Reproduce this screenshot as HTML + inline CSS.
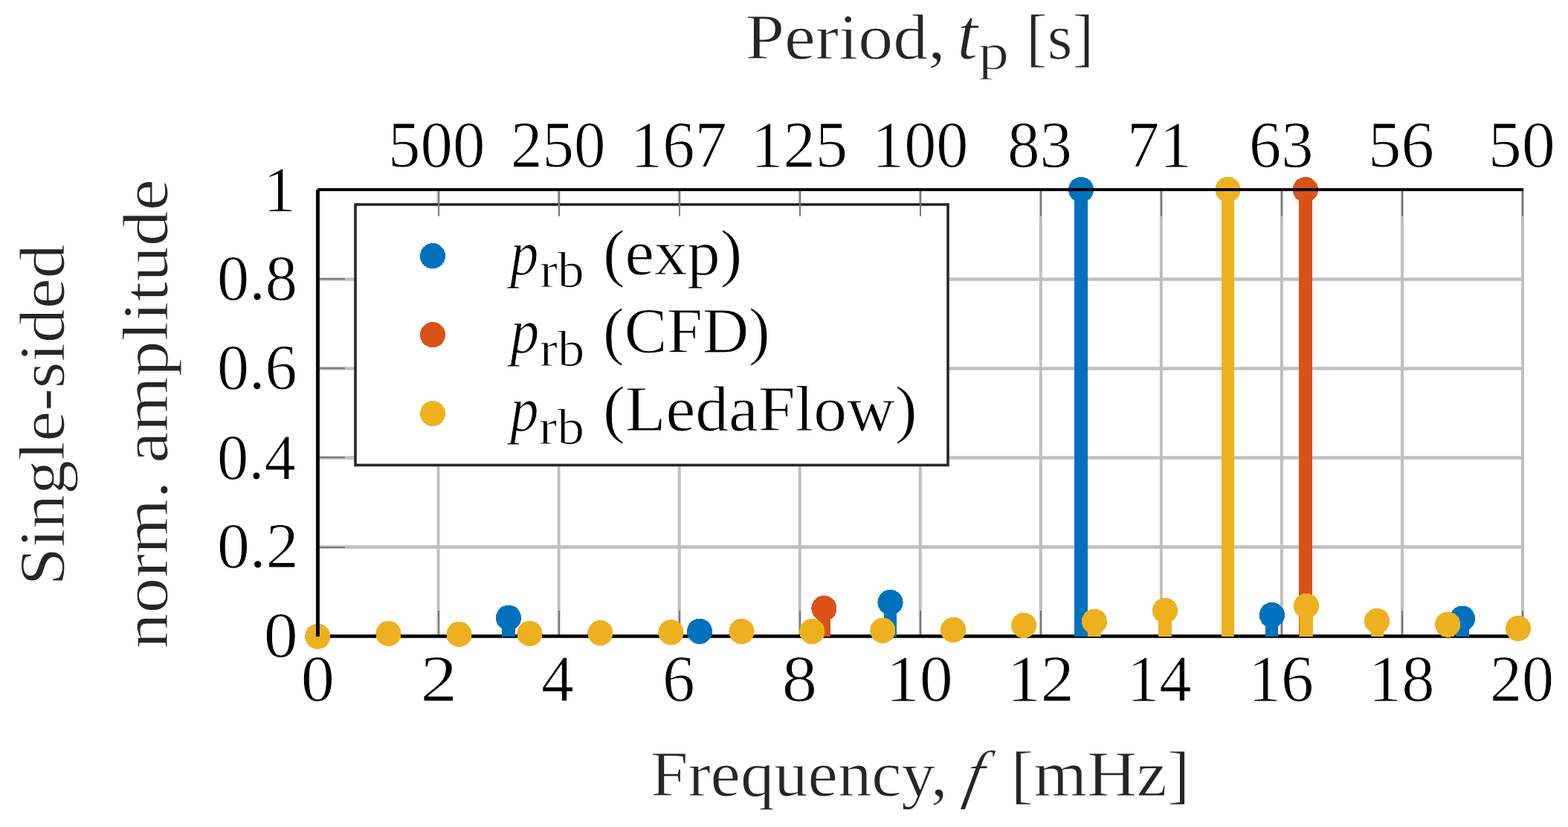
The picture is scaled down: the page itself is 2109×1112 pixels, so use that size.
<!DOCTYPE html>
<html><head><meta charset="utf-8"><title>Single-sided amplitude spectrum</title>
<style>html,body{margin:0;padding:0;background:#fff;overflow:hidden;width:2109px;height:1112px;}svg{display:block;}text{font-family:"Liberation Serif","DejaVu Serif",serif;stroke:#fff;stroke-width:1px;stroke-linejoin:round;}</style>
</head><body>
<svg width="2109" height="1112" viewBox="0 0 2109 1112">
<rect width="2109" height="1112" fill="#fff"/>
<g id="grid">
<line x1="589.55" y1="257" x2="589.55" y2="855.5" stroke="#bfbfbf" stroke-width="4"/>
<line x1="751.60" y1="257" x2="751.60" y2="855.5" stroke="#bfbfbf" stroke-width="4"/>
<line x1="913.65" y1="257" x2="913.65" y2="855.5" stroke="#bfbfbf" stroke-width="4"/>
<line x1="1075.70" y1="257" x2="1075.70" y2="855.5" stroke="#bfbfbf" stroke-width="4"/>
<line x1="1237.75" y1="257" x2="1237.75" y2="855.5" stroke="#bfbfbf" stroke-width="4"/>
<line x1="1399.80" y1="257" x2="1399.80" y2="855.5" stroke="#bfbfbf" stroke-width="4"/>
<line x1="1561.85" y1="257" x2="1561.85" y2="855.5" stroke="#bfbfbf" stroke-width="4"/>
<line x1="1723.90" y1="257" x2="1723.90" y2="855.5" stroke="#bfbfbf" stroke-width="4"/>
<line x1="1885.95" y1="257" x2="1885.95" y2="855.5" stroke="#bfbfbf" stroke-width="4"/>
<line x1="2048.00" y1="257" x2="2048.00" y2="855.5" stroke="#bfbfbf" stroke-width="4"/>
<line x1="430" y1="735.45" x2="2048" y2="735.45" stroke="#bfbfbf" stroke-width="4.6"/>
<line x1="430" y1="615.45" x2="2048" y2="615.45" stroke="#bfbfbf" stroke-width="4.6"/>
<line x1="430" y1="495.45" x2="2048" y2="495.45" stroke="#bfbfbf" stroke-width="4.6"/>
<line x1="430" y1="375.45" x2="2048" y2="375.45" stroke="#bfbfbf" stroke-width="4.6"/>
</g>
<g id="legendbox"><rect x="478" y="275" width="797" height="350.4" fill="#fff" stroke="#262626" stroke-width="3.6"/></g>
<g id="ticks">
<line x1="590.00" y1="257" x2="590.00" y2="290.8" stroke="#787878" stroke-width="2"/>
<line x1="590.00" y1="821" x2="590.00" y2="855" stroke="#787878" stroke-width="2"/>
<line x1="752.00" y1="257" x2="752.00" y2="290.8" stroke="#787878" stroke-width="2"/>
<line x1="752.00" y1="821" x2="752.00" y2="855" stroke="#787878" stroke-width="2"/>
<line x1="914.00" y1="257" x2="914.00" y2="290.8" stroke="#787878" stroke-width="2"/>
<line x1="914.00" y1="821" x2="914.00" y2="855" stroke="#787878" stroke-width="2"/>
<line x1="1076.00" y1="257" x2="1076.00" y2="290.8" stroke="#787878" stroke-width="2"/>
<line x1="1076.00" y1="821" x2="1076.00" y2="855" stroke="#787878" stroke-width="2"/>
<line x1="1238.00" y1="257" x2="1238.00" y2="290.8" stroke="#787878" stroke-width="2"/>
<line x1="1238.00" y1="821" x2="1238.00" y2="855" stroke="#787878" stroke-width="2"/>
<line x1="1400.00" y1="257" x2="1400.00" y2="290.8" stroke="#787878" stroke-width="2"/>
<line x1="1400.00" y1="821" x2="1400.00" y2="855" stroke="#787878" stroke-width="2"/>
<line x1="1562.00" y1="257" x2="1562.00" y2="290.8" stroke="#787878" stroke-width="2"/>
<line x1="1562.00" y1="821" x2="1562.00" y2="855" stroke="#787878" stroke-width="2"/>
<line x1="1724.00" y1="257" x2="1724.00" y2="290.8" stroke="#787878" stroke-width="2"/>
<line x1="1724.00" y1="821" x2="1724.00" y2="855" stroke="#787878" stroke-width="2"/>
<line x1="1886.00" y1="257" x2="1886.00" y2="290.8" stroke="#787878" stroke-width="2"/>
<line x1="1886.00" y1="821" x2="1886.00" y2="855" stroke="#787878" stroke-width="2"/>
<line x1="2048.00" y1="257" x2="2048.00" y2="290.8" stroke="#787878" stroke-width="2"/>
<line x1="2048.00" y1="821" x2="2048.00" y2="855" stroke="#787878" stroke-width="2"/>
<line x1="430" y1="736.00" x2="464" y2="736.00" stroke="#787878" stroke-width="2"/>
<line x1="430" y1="615.00" x2="464" y2="615.00" stroke="#787878" stroke-width="2"/>
<line x1="430" y1="495.00" x2="464" y2="495.00" stroke="#787878" stroke-width="2"/>
<line x1="430" y1="375.00" x2="464" y2="375.00" stroke="#787878" stroke-width="2"/>
</g>
<rect x="427" y="853.2" width="1615" height="4.6" fill="#000"/>
<g id="data" shape-rendering="crispEdges">
<rect x="675.35" y="830.70" width="17.3" height="25.30" fill="#0072BD"/>
<rect x="932.35" y="848.90" width="17.3" height="7.10" fill="#0072BD"/>
<rect x="1188.85" y="810.00" width="17.3" height="46.00" fill="#0072BD"/>
<rect x="1445.35" y="255.00" width="17.3" height="601.00" fill="#0072BD"/>
<rect x="1702.15" y="827.00" width="17.3" height="29.00" fill="#0072BD"/>
<rect x="1958.35" y="831.60" width="17.3" height="24.40" fill="#0072BD"/>
<circle cx="684.00" cy="830.70" r="17.1" fill="#0072BD"/>
<circle cx="941.00" cy="848.90" r="17.1" fill="#0072BD"/>
<circle cx="1197.50" cy="810.00" r="17.1" fill="#0072BD"/>
<circle cx="1454.00" cy="255.00" r="17.1" fill="#0072BD"/>
<circle cx="1710.80" cy="827.00" r="17.1" fill="#0072BD"/>
<circle cx="1967.00" cy="831.60" r="17.1" fill="#0072BD"/>
<rect x="1099.75" y="818.00" width="17.3" height="38.00" fill="#D95319"/>
<rect x="1747.25" y="255.00" width="17.3" height="601.00" fill="#D95319"/>
<circle cx="1108.40" cy="818.00" r="17.1" fill="#D95319"/>
<circle cx="1755.90" cy="255.00" r="17.1" fill="#D95319"/>
<rect x="513.85" y="851.90" width="17.3" height="4.10" fill="#EDB120"/>
<rect x="608.85" y="852.90" width="17.3" height="3.10" fill="#EDB120"/>
<rect x="703.85" y="851.80" width="17.3" height="4.20" fill="#EDB120"/>
<rect x="798.75" y="851.00" width="17.3" height="5.00" fill="#EDB120"/>
<rect x="893.85" y="850.40" width="17.3" height="5.60" fill="#EDB120"/>
<rect x="988.85" y="849.00" width="17.3" height="7.00" fill="#EDB120"/>
<rect x="1083.65" y="849.00" width="17.3" height="7.00" fill="#EDB120"/>
<rect x="1178.75" y="847.70" width="17.3" height="8.30" fill="#EDB120"/>
<rect x="1273.55" y="846.90" width="17.3" height="9.10" fill="#EDB120"/>
<rect x="1368.45" y="840.90" width="17.3" height="15.10" fill="#EDB120"/>
<rect x="1463.35" y="835.80" width="17.3" height="20.20" fill="#EDB120"/>
<rect x="1558.35" y="821.00" width="17.3" height="35.00" fill="#EDB120"/>
<rect x="1642.85" y="255.00" width="17.3" height="601.00" fill="#EDB120"/>
<rect x="1748.35" y="814.80" width="17.3" height="41.20" fill="#EDB120"/>
<rect x="1843.55" y="835.00" width="17.3" height="21.00" fill="#EDB120"/>
<rect x="1938.55" y="839.80" width="17.3" height="16.20" fill="#EDB120"/>
<rect x="2033.35" y="845.00" width="17.3" height="11.00" fill="#EDB120"/>
<circle cx="427.30" cy="855.70" r="17.1" fill="#EDB120"/>
<circle cx="522.50" cy="851.90" r="17.1" fill="#EDB120"/>
<circle cx="617.50" cy="852.90" r="17.1" fill="#EDB120"/>
<circle cx="712.50" cy="851.80" r="17.1" fill="#EDB120"/>
<circle cx="807.40" cy="851.00" r="17.1" fill="#EDB120"/>
<circle cx="902.50" cy="850.40" r="17.1" fill="#EDB120"/>
<circle cx="997.50" cy="849.00" r="17.1" fill="#EDB120"/>
<circle cx="1092.30" cy="849.00" r="17.1" fill="#EDB120"/>
<circle cx="1187.40" cy="847.70" r="17.1" fill="#EDB120"/>
<circle cx="1282.20" cy="846.90" r="17.1" fill="#EDB120"/>
<circle cx="1377.10" cy="840.90" r="17.1" fill="#EDB120"/>
<circle cx="1472.00" cy="835.80" r="17.1" fill="#EDB120"/>
<circle cx="1567.00" cy="821.00" r="17.1" fill="#EDB120"/>
<circle cx="1651.50" cy="255.00" r="17.1" fill="#EDB120"/>
<circle cx="1757.00" cy="814.80" r="17.1" fill="#EDB120"/>
<circle cx="1852.20" cy="835.00" r="17.1" fill="#EDB120"/>
<circle cx="1947.20" cy="839.80" r="17.1" fill="#EDB120"/>
<circle cx="2042.00" cy="845.00" r="17.1" fill="#EDB120"/>
</g>
<g id="axes">
<rect x="427.1" y="253" width="1622" height="4" fill="#000"/>
<rect x="425" y="255.1" width="4.9" height="600.8" fill="#000"/>
</g>
<g id="legmarkers" shape-rendering="crispEdges">
<circle cx="581.9" cy="344.2" r="17.1" fill="#0072BD"/>
<circle cx="582.0" cy="450.2" r="17.1" fill="#D95319"/>
<circle cx="582.0" cy="556.0" r="17.1" fill="#EDB120"/>
</g>
<g id="texts">
<text id="t1" transform="matrix(1.07483,0,0.0,1.0,1002.779,79.000)" font-size="87.5" fill="#262626">Period,</text>
<text id="t2" transform="matrix(1.14101,0,0.0,1.11,1287.339,79.000)" font-size="87.5" fill="#262626" font-style="italic">t</text>
<text id="t3" transform="matrix(1.23749,0,0.0,1.0,1315.625,92.500)" font-size="66.7" fill="#262626">p</text>
<text id="t4" transform="matrix(0.98917,0,0.0,1.0,1380.051,79.000)" font-size="87.5" fill="#262626">[s]</text>
<text id="x1" transform="matrix(1.03732,0,0.0,1.0,874.915,1070.000)" font-size="87.5" fill="#262626">Frequency,</text>
<text id="x2" transform="matrix(0.97917,0,-0.2,1.0,1293.958,1070.000)" font-size="87.5" fill="#262626" font-style="italic">f</text>
<text id="x3" transform="matrix(1.05496,0,0.0,1.0,1359.616,1070.000)" font-size="87.5" fill="#262626">[mHz]</text>
<text id="y1" transform="matrix(0,-1.04899,1,0,86.000,787.284)" font-size="87.5" fill="#262626">Single-sided</text>
<text id="y2" transform="matrix(0,-1.09146,1,0,225.100,872.170)" font-size="87.5" fill="#262626">norm. amplitude</text>
<text id="tt0" transform="matrix(0.99299,0,0.0,1.02,522.018,223.500)" font-size="87.5" fill="#000">500</text>
<text id="tt1" transform="matrix(0.97044,0,0.0,1.02,687.093,223.500)" font-size="87.5" fill="#000">250</text>
<text id="tt2" transform="matrix(0.98694,0,0.0,1.02,848.095,223.500)" font-size="87.5" fill="#000">167</text>
<text id="tt3" transform="matrix(0.99114,0,0.0,1.02,1010.045,223.500)" font-size="87.5" fill="#000">125</text>
<text id="tt4" transform="matrix(0.98522,0,0.0,1.02,1173.093,223.500)" font-size="87.5" fill="#000">100</text>
<text id="tt5" transform="matrix(0.99531,0,0.0,1.02,1355.006,223.500)" font-size="87.5" fill="#000">83</text>
<text id="tt6" transform="matrix(0.99369,0,0.0,1.02,1516.031,223.500)" font-size="87.5" fill="#000">71</text>
<text id="tt7" transform="matrix(0.98948,0,0.0,1.02,1680.019,223.500)" font-size="87.5" fill="#000">63</text>
<text id="tt8" transform="matrix(1.01810,0,0.0,1.02,1839.893,223.500)" font-size="87.5" fill="#000">56</text>
<text id="tt9" transform="matrix(1.02983,0,0.0,1.02,2001.824,223.500)" font-size="87.5" fill="#000">50</text>
<text id="bt0" transform="matrix(1.03376,0,0.0,1.01,404.855,941.600)" font-size="87.5" fill="#000">0</text>
<text id="bt1" transform="matrix(1.13415,0,0.0,1.01,565.391,941.600)" font-size="87.5" fill="#000">2</text>
<text id="bt2" transform="matrix(1.00194,0,0.0,1.01,727.944,941.600)" font-size="87.5" fill="#000">4</text>
<text id="bt3" transform="matrix(1.00000,0,0.0,1.01,891.000,941.600)" font-size="87.5" fill="#000">6</text>
<text id="bt4" transform="matrix(1.08179,0,0.0,1.01,1051.706,941.600)" font-size="87.5" fill="#000">8</text>
<text id="bt5" transform="matrix(1.02790,0,0.0,1.01,1191.767,941.600)" font-size="87.5" fill="#000">10</text>
<text id="bt6" transform="matrix(1.03001,0,0.0,1.01,1354.720,941.600)" font-size="87.5" fill="#000">12</text>
<text id="bt7" transform="matrix(0.98989,0,0.0,1.01,1516.068,941.600)" font-size="87.5" fill="#000">14</text>
<text id="bt8" transform="matrix(1.00602,0,0.0,1.01,1678.924,941.600)" font-size="87.5" fill="#000">16</text>
<text id="bt9" transform="matrix(1.01386,0,0.0,1.01,1840.857,941.600)" font-size="87.5" fill="#000">18</text>
<text id="bt10" transform="matrix(0.98436,0,0.0,1.01,2004.040,941.600)" font-size="87.5" fill="#000">20</text>
<text id="yt0" transform="matrix(1.05048,0,0.0,1.0,354.793,883.000)" font-size="87.5" fill="#000">0</text>
<text id="yt1" transform="matrix(1.00328,0,0.0,1.0,291.979,763.000)" font-size="87.5" fill="#000">0.2</text>
<text id="yt2" transform="matrix(0.96497,0,0.0,1.0,292.113,643.500)" font-size="87.5" fill="#000">0.4</text>
<text id="yt3" transform="matrix(0.98361,0,0.0,1.0,292.047,523.000)" font-size="87.5" fill="#000">0.6</text>
<text id="yt4" transform="matrix(0.98753,0,0.0,1.0,292.028,403.200)" font-size="87.5" fill="#000">0.8</text>
<text id="yt5" transform="matrix(1.00342,0,0.0,1.0,353.905,283.900)" font-size="87.5" fill="#000">1</text>
<text id="l1a" transform="matrix(0.87071,0,0.0,1.0,686.327,368.800)" font-size="87.5" fill="#000" font-style="italic">p</text>
<text id="l1b" transform="matrix(1.07977,0,0.0,1.0,725.892,385.900)" font-size="66.7" fill="#000">rb</text>
<text id="l1c" transform="matrix(1.01534,0,0.0,1.0,810.932,368.800)" font-size="87.5" fill="#000">(exp)</text>
<text id="l2a" transform="matrix(0.88623,0,0.0,1.0,686.391,474.000)" font-size="87.5" fill="#000" font-style="italic">p</text>
<text id="l2b" transform="matrix(1.08777,0,0.0,1.0,725.846,491.500)" font-size="66.7" fill="#000">rb</text>
<text id="l2c" transform="matrix(0.98331,0,0.0,1.0,811.051,473.900)" font-size="87.5" fill="#000">(CFD)</text>
<text id="l3a" transform="matrix(0.87324,0,0.0,1.0,686.326,579.400)" font-size="87.5" fill="#000" font-style="italic">p</text>
<text id="l3b" transform="matrix(1.10433,0,0.0,1.0,724.802,596.900)" font-size="66.7" fill="#000">rb</text>
<text id="l3c" transform="matrix(1.02347,0,0.0,1.0,810.904,579.300)" font-size="87.5" fill="#000">(LedaFlow)</text>
</g>
</svg>
</body></html>
